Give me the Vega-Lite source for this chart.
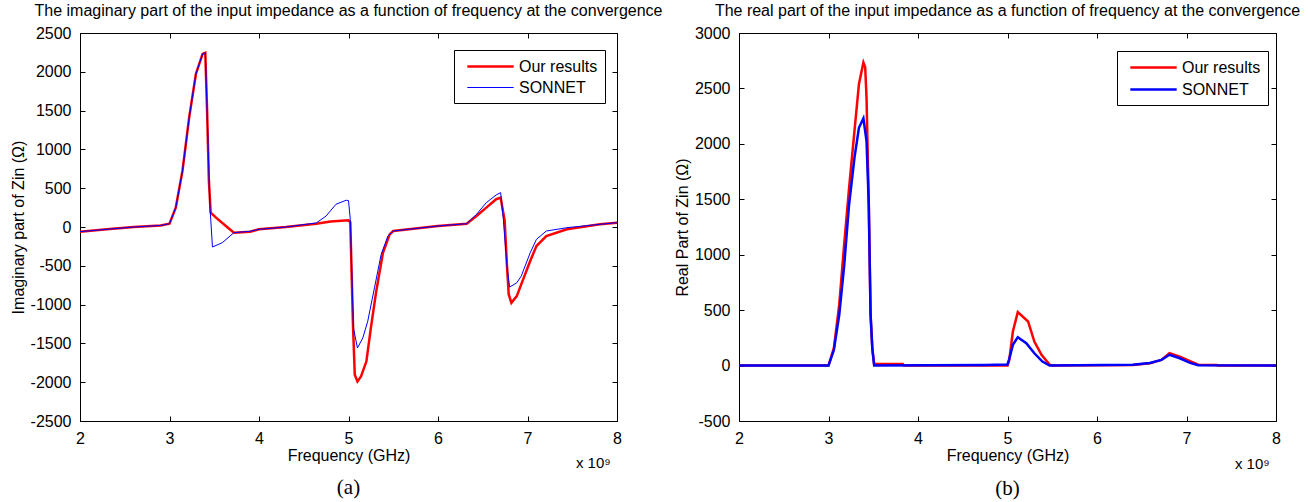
{
  "$schema": "https://vega.github.io/schema/vega-lite/v6.json",
  "background": "white",
  "padding": {"left": 9, "top": 2, "right": 4, "bottom": 0},
  "config": {
    "font": "Liberation Sans",
    "view": {"stroke": "black", "strokeWidth": 1},
    "axis": {
      "grid": false,
      "labelFont": "Liberation Sans",
      "labelFontSize": 16,
      "labelColor": "black",
      "titleFont": "Liberation Sans",
      "titleFontSize": 16,
      "titleFontWeight": "normal",
      "titleColor": "black",
      "domainColor": "black",
      "tickColor": "black",
      "tickSize": -5,
      "labelPadding": 14,
      "labelFlush": false,
      "labelOverlap": false
    },
    "legend": {
      "title": null,
      "orient": "none",
      "symbolType": "M-2.9,0H2.9",
      "symbolSize": 256,
      "symbolOffset": 20,
      "labelOffset": 19,
      "labelFontSize": 16,
      "labelFont": "Liberation Sans",
      "labelColor": "black",
      "fillColor": "white",
      "strokeColor": "black",
      "padding": 7,
      "rowPadding": 4
    },
    "title": {"font": "Liberation Sans", "fontSize": 16, "fontWeight": "normal", "color": "black", "offset": 6}
  },
  "datasets": {
    "imag": [
      {"f": 2.0, "z": -60, "s": "Our results"},
      {"f": 2.3, "z": -30, "s": "Our results"},
      {"f": 2.6, "z": 0, "s": "Our results"},
      {"f": 2.9, "z": 20, "s": "Our results"},
      {"f": 3.0, "z": 43, "s": "Our results"},
      {"f": 3.07, "z": 250, "s": "Our results"},
      {"f": 3.145, "z": 723, "s": "Our results"},
      {"f": 3.22, "z": 1412, "s": "Our results"},
      {"f": 3.295, "z": 1972, "s": "Our results"},
      {"f": 3.37, "z": 2231, "s": "Our results"},
      {"f": 3.40, "z": 2245, "s": "Our results"},
      {"f": 3.42, "z": 1500, "s": "Our results"},
      {"f": 3.44, "z": 600, "s": "Our results"},
      {"f": 3.46, "z": 185, "s": "Our results"},
      {"f": 3.52, "z": 120, "s": "Our results"},
      {"f": 3.63, "z": 13, "s": "Our results"},
      {"f": 3.72, "z": -73, "s": "Our results"},
      {"f": 3.9, "z": -60, "s": "Our results"},
      {"f": 4.0, "z": -30, "s": "Our results"},
      {"f": 4.3, "z": 0, "s": "Our results"},
      {"f": 4.64, "z": 43, "s": "Our results"},
      {"f": 4.8, "z": 70, "s": "Our results"},
      {"f": 5.0, "z": 86, "s": "Our results"},
      {"f": 5.02, "z": 60, "s": "Our results"},
      {"f": 5.05, "z": -1257, "s": "Our results"},
      {"f": 5.07, "z": -1903, "s": "Our results"},
      {"f": 5.1, "z": -1990, "s": "Our results"},
      {"f": 5.14, "z": -1925, "s": "Our results"},
      {"f": 5.2, "z": -1731, "s": "Our results"},
      {"f": 5.25, "z": -1301, "s": "Our results"},
      {"f": 5.31, "z": -827, "s": "Our results"},
      {"f": 5.385, "z": -332, "s": "Our results"},
      {"f": 5.46, "z": -95, "s": "Our results"},
      {"f": 5.5, "z": -52, "s": "Our results"},
      {"f": 6.0, "z": 13, "s": "Our results"},
      {"f": 6.32, "z": 43, "s": "Our results"},
      {"f": 6.43, "z": 142, "s": "Our results"},
      {"f": 6.54, "z": 250, "s": "Our results"},
      {"f": 6.65, "z": 358, "s": "Our results"},
      {"f": 6.70, "z": 379, "s": "Our results"},
      {"f": 6.745, "z": 78, "s": "Our results"},
      {"f": 6.77, "z": -482, "s": "Our results"},
      {"f": 6.79, "z": -866, "s": "Our results"},
      {"f": 6.82, "z": -978, "s": "Our results"},
      {"f": 6.88, "z": -891, "s": "Our results"},
      {"f": 6.93, "z": -740, "s": "Our results"},
      {"f": 7.03, "z": -439, "s": "Our results"},
      {"f": 7.10, "z": -245, "s": "Our results"},
      {"f": 7.21, "z": -116, "s": "Our results"},
      {"f": 7.44, "z": -30, "s": "Our results"},
      {"f": 7.81, "z": 35, "s": "Our results"},
      {"f": 8.0, "z": 56, "s": "Our results"},
      {"f": 2.0, "z": -60, "s": "SONNET"},
      {"f": 2.3, "z": -30, "s": "SONNET"},
      {"f": 2.6, "z": 0, "s": "SONNET"},
      {"f": 2.9, "z": 20, "s": "SONNET"},
      {"f": 3.0, "z": 43, "s": "SONNET"},
      {"f": 3.07, "z": 250, "s": "SONNET"},
      {"f": 3.145, "z": 723, "s": "SONNET"},
      {"f": 3.22, "z": 1412, "s": "SONNET"},
      {"f": 3.295, "z": 1972, "s": "SONNET"},
      {"f": 3.37, "z": 2231, "s": "SONNET"},
      {"f": 3.40, "z": 2245, "s": "SONNET"},
      {"f": 3.42, "z": 1500, "s": "SONNET"},
      {"f": 3.45, "z": 300, "s": "SONNET"},
      {"f": 3.48, "z": -258, "s": "SONNET"},
      {"f": 3.59, "z": -202, "s": "SONNET"},
      {"f": 3.72, "z": -73, "s": "SONNET"},
      {"f": 3.9, "z": -55, "s": "SONNET"},
      {"f": 4.0, "z": -30, "s": "SONNET"},
      {"f": 4.3, "z": 0, "s": "SONNET"},
      {"f": 4.64, "z": 52, "s": "SONNET"},
      {"f": 4.75, "z": 142, "s": "SONNET"},
      {"f": 4.86, "z": 293, "s": "SONNET"},
      {"f": 4.975, "z": 345, "s": "SONNET"},
      {"f": 5.0, "z": 340, "s": "SONNET"},
      {"f": 5.02, "z": 100, "s": "SONNET"},
      {"f": 5.04, "z": -700, "s": "SONNET"},
      {"f": 5.055, "z": -1301, "s": "SONNET"},
      {"f": 5.1, "z": -1559, "s": "SONNET"},
      {"f": 5.16, "z": -1430, "s": "SONNET"},
      {"f": 5.215, "z": -1214, "s": "SONNET"},
      {"f": 5.29, "z": -784, "s": "SONNET"},
      {"f": 5.365, "z": -353, "s": "SONNET"},
      {"f": 5.44, "z": -116, "s": "SONNET"},
      {"f": 5.5, "z": -52, "s": "SONNET"},
      {"f": 6.0, "z": 13, "s": "SONNET"},
      {"f": 6.32, "z": 43, "s": "SONNET"},
      {"f": 6.43, "z": 163, "s": "SONNET"},
      {"f": 6.54, "z": 314, "s": "SONNET"},
      {"f": 6.65, "z": 413, "s": "SONNET"},
      {"f": 6.70, "z": 443, "s": "SONNET"},
      {"f": 6.73, "z": 100, "s": "SONNET"},
      {"f": 6.77, "z": -500, "s": "SONNET"},
      {"f": 6.80, "z": -775, "s": "SONNET"},
      {"f": 6.88, "z": -719, "s": "SONNET"},
      {"f": 6.93, "z": -633, "s": "SONNET"},
      {"f": 7.03, "z": -332, "s": "SONNET"},
      {"f": 7.10, "z": -159, "s": "SONNET"},
      {"f": 7.21, "z": -52, "s": "SONNET"},
      {"f": 7.44, "z": -9, "s": "SONNET"},
      {"f": 7.81, "z": 35, "s": "SONNET"},
      {"f": 8.0, "z": 56, "s": "SONNET"}
    ],
    "real": [
      {"f": 2.0, "z": 0, "s": "Our results"},
      {"f": 3.0, "z": 0, "s": "Our results"},
      {"f": 3.06, "z": 157, "s": "Our results"},
      {"f": 3.12, "z": 549, "s": "Our results"},
      {"f": 3.175, "z": 1091, "s": "Our results"},
      {"f": 3.23, "z": 1603, "s": "Our results"},
      {"f": 3.29, "z": 2115, "s": "Our results"},
      {"f": 3.34, "z": 2538, "s": "Our results"},
      {"f": 3.39, "z": 2733, "s": "Our results"},
      {"f": 3.41, "z": 2690, "s": "Our results"},
      {"f": 3.425, "z": 2416, "s": "Our results"},
      {"f": 3.45, "z": 1455, "s": "Our results"},
      {"f": 3.47, "z": 460, "s": "Our results"},
      {"f": 3.49, "z": 150, "s": "Our results"},
      {"f": 3.51, "z": 15, "s": "Our results"},
      {"f": 3.83, "z": 15, "s": "Our results"},
      {"f": 3.84, "z": 0, "s": "Our results"},
      {"f": 5.0, "z": 0, "s": "Our results"},
      {"f": 5.02, "z": 50, "s": "Our results"},
      {"f": 5.06, "z": 307, "s": "Our results"},
      {"f": 5.115, "z": 482, "s": "Our results"},
      {"f": 5.23, "z": 398, "s": "Our results"},
      {"f": 5.30, "z": 217, "s": "Our results"},
      {"f": 5.38, "z": 97, "s": "Our results"},
      {"f": 5.47, "z": 9, "s": "Our results"},
      {"f": 5.5, "z": 0, "s": "Our results"},
      {"f": 6.4, "z": 5, "s": "Our results"},
      {"f": 6.59, "z": 20, "s": "Our results"},
      {"f": 6.72, "z": 51, "s": "Our results"},
      {"f": 6.81, "z": 111, "s": "Our results"},
      {"f": 6.925, "z": 81, "s": "Our results"},
      {"f": 7.04, "z": 39, "s": "Our results"},
      {"f": 7.13, "z": 8, "s": "Our results"},
      {"f": 7.34, "z": 5, "s": "Our results"},
      {"f": 7.35, "z": 0, "s": "Our results"},
      {"f": 8.0, "z": 0, "s": "Our results"},
      {"f": 2.0, "z": 0, "s": "SONNET"},
      {"f": 3.0, "z": 0, "s": "SONNET"},
      {"f": 3.06, "z": 140, "s": "SONNET"},
      {"f": 3.12, "z": 458, "s": "SONNET"},
      {"f": 3.175, "z": 900, "s": "SONNET"},
      {"f": 3.23, "z": 1453, "s": "SONNET"},
      {"f": 3.29, "z": 1874, "s": "SONNET"},
      {"f": 3.34, "z": 2145, "s": "SONNET"},
      {"f": 3.39, "z": 2230, "s": "SONNET"},
      {"f": 3.425, "z": 2025, "s": "SONNET"},
      {"f": 3.45, "z": 1455, "s": "SONNET"},
      {"f": 3.47, "z": 460, "s": "SONNET"},
      {"f": 3.49, "z": 150, "s": "SONNET"},
      {"f": 3.51, "z": 0, "s": "SONNET"},
      {"f": 4.75, "z": 5, "s": "SONNET"},
      {"f": 5.0, "z": 10, "s": "SONNET"},
      {"f": 5.02, "z": 60, "s": "SONNET"},
      {"f": 5.06, "z": 187, "s": "SONNET"},
      {"f": 5.115, "z": 256, "s": "SONNET"},
      {"f": 5.21, "z": 202, "s": "SONNET"},
      {"f": 5.30, "z": 111, "s": "SONNET"},
      {"f": 5.39, "z": 36, "s": "SONNET"},
      {"f": 5.47, "z": 0, "s": "SONNET"},
      {"f": 6.4, "z": 8, "s": "SONNET"},
      {"f": 6.59, "z": 24, "s": "SONNET"},
      {"f": 6.72, "z": 51, "s": "SONNET"},
      {"f": 6.81, "z": 97, "s": "SONNET"},
      {"f": 6.925, "z": 66, "s": "SONNET"},
      {"f": 7.04, "z": 24, "s": "SONNET"},
      {"f": 7.13, "z": 3, "s": "SONNET"},
      {"f": 8.0, "z": 0, "s": "SONNET"}
    ],
    "notesA": [{"exp": "x 10⁹", "cap": "(a)"}],
    "notesB": [{"exp": "x 10⁹", "cap": "(b)"}]
  },
  "bounds": "flush",
  "spacing": 122,
  "resolve": {
    "scale": {"color": "independent", "strokeWidth": "independent"},
    "legend": {"color": "independent", "strokeWidth": "independent"}
  },
  "hconcat": [
    {
      "width": 537,
      "height": 388,
      "title": {"text": "The imaginary part of the input impedance as a function of frequency at the convergence"},
      "resolve": {"axis": {"x": "independent", "y": "independent"}},
      "layer": [
        {
          "data": {"name": "imag"},
          "transform": [{"filter": "datum.s === 'Our results'"}],
          "mark": {"type": "line", "clip": true},
          "encoding": {
            "x": {"field": "f", "type": "quantitative", "scale": {"domain": [2, 8], "nice": false, "zero": false},
                  "axis": {"orient": "bottom", "values": [2, 3, 4, 5, 6, 7, 8], "title": "Frequency (GHz)", "titlePadding": 1}},
            "y": {"field": "z", "type": "quantitative", "scale": {"domain": [-2500, 2500], "nice": false},
                  "axis": {"orient": "left", "values": [-2500, -2000, -1500, -1000, -500, 0, 500, 1000, 1500, 2000, 2500], "labelExpr": "'' + datum.value", "title": "Imaginary part of Zin (Ω)", "titlePadding": 4}},
            "color": {"field": "s", "type": "nominal",
                      "scale": {"domain": ["Our results", "SONNET"], "range": ["#ff0000", "#0000ff"]},
                      "legend": {"legendX": 374, "legendY": 17}},
            "strokeWidth": {"field": "s", "type": "ordinal",
                      "scale": {"domain": ["Our results", "SONNET"], "range": [2.5, 1]},
                      "legend": {"legendX": 374, "legendY": 17}}
          }
        },
        {
          "data": {"name": "imag"},
          "transform": [{"filter": "datum.s === 'SONNET'"}],
          "mark": {"type": "line", "clip": true},
          "encoding": {
            "x": {"field": "f", "type": "quantitative", "axis": {"orient": "top", "values": [2, 3, 4, 5, 6, 7, 8], "labels": false, "title": null, "domain": false}},
            "y": {"field": "z", "type": "quantitative", "axis": {"orient": "right", "values": [-2500, -2000, -1500, -1000, -500, 0, 500, 1000, 1500, 2000, 2500], "labels": false, "title": null, "domain": false}},
            "color": {"field": "s", "type": "nominal"},
            "strokeWidth": {"field": "s", "type": "ordinal"}
          }
        },
        {
          "data": {"name": "notesA"},
          "mark": {"type": "text", "align": "right", "baseline": "middle", "fontSize": 15, "font": "Liberation Sans", "color": "black"},
          "encoding": {
            "x": {"datum": 7.93, "type": "quantitative", "axis": null},
            "y": {"datum": -3040, "type": "quantitative", "axis": null},
            "text": {"field": "exp"}
          }
        },
        {
          "data": {"name": "notesA"},
          "mark": {"type": "text", "align": "center", "baseline": "middle", "fontSize": 21, "font": "Liberation Serif", "color": "black"},
          "encoding": {
            "x": {"datum": 5.0, "type": "quantitative", "axis": null},
            "y": {"datum": -3360, "type": "quantitative", "axis": null},
            "text": {"field": "cap"}
          }
        }
      ]
    },
    {
      "width": 537,
      "height": 388,
      "title": {"text": "The real part of the input impedance as a function of frequency at the convergence"},
      "resolve": {"axis": {"x": "independent", "y": "independent"}},
      "layer": [
        {
          "data": {"name": "real"},
          "transform": [{"filter": "datum.s === 'Our results'"}],
          "mark": {"type": "line", "clip": true, "strokeWidth": 2.5},
          "encoding": {
            "x": {"field": "f", "type": "quantitative", "scale": {"domain": [2, 8], "nice": false, "zero": false},
                  "axis": {"orient": "bottom", "values": [2, 3, 4, 5, 6, 7, 8], "title": "Frequency (GHz)", "titlePadding": 1}},
            "y": {"field": "z", "type": "quantitative", "scale": {"domain": [-500, 3000], "nice": false},
                  "axis": {"orient": "left", "values": [-500, 0, 500, 1000, 1500, 2000, 2500, 3000], "labelExpr": "'' + datum.value", "title": "Real Part of Zin (Ω)", "titlePadding": 4}},
            "color": {"field": "s", "type": "nominal",
                      "scale": {"domain": ["Our results", "SONNET"], "range": ["#ff0000", "#0000ff"]},
                      "legend": {"legendX": 378, "legendY": 18, "symbolStrokeWidth": 2.5}}
          }
        },
        {
          "data": {"name": "real"},
          "transform": [{"filter": "datum.s === 'SONNET'"}],
          "mark": {"type": "line", "clip": true, "strokeWidth": 2.5},
          "encoding": {
            "x": {"field": "f", "type": "quantitative", "axis": {"orient": "top", "values": [2, 3, 4, 5, 6, 7, 8], "labels": false, "title": null, "domain": false}},
            "y": {"field": "z", "type": "quantitative", "axis": {"orient": "right", "values": [-500, 0, 500, 1000, 1500, 2000, 2500, 3000], "labels": false, "title": null, "domain": false}},
            "color": {"field": "s", "type": "nominal"}
          }
        },
        {
          "data": {"name": "notesB"},
          "mark": {"type": "text", "align": "right", "baseline": "middle", "fontSize": 15, "font": "Liberation Sans", "color": "black"},
          "encoding": {
            "x": {"datum": 7.93, "type": "quantitative", "axis": null},
            "y": {"datum": -886, "type": "quantitative", "axis": null},
            "text": {"field": "exp"}
          }
        },
        {
          "data": {"name": "notesB"},
          "mark": {"type": "text", "align": "center", "baseline": "middle", "fontSize": 21, "font": "Liberation Serif", "color": "black"},
          "encoding": {
            "x": {"datum": 5.0, "type": "quantitative", "axis": null},
            "y": {"datum": -1115, "type": "quantitative", "axis": null},
            "text": {"field": "cap"}
          }
        }
      ]
    }
  ]
}
